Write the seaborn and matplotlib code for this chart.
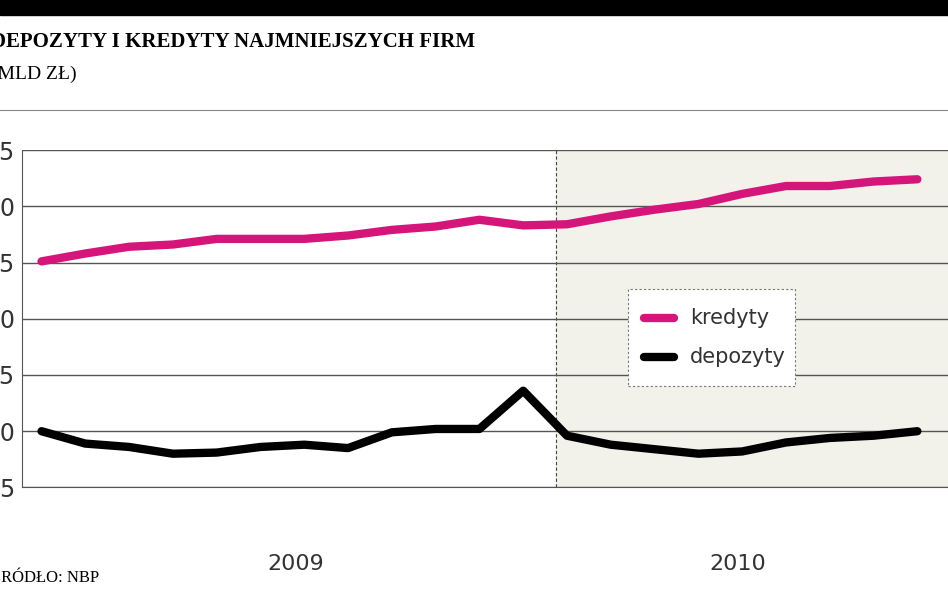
import numpy as np
import pandas as pd
import matplotlib.pyplot as plt
import seaborn as sns

# wartości (mld zł), miesiące I.2009 - IX.2010
months = list(range(21))
kredyty = [25.1, 25.8, 26.4, 26.6, 27.1, 27.1, 27.1, 27.4, 27.9, 28.2, 28.8,
           28.3, 28.4, 29.1, 29.7, 30.2, 31.1, 31.8, 31.8, 32.2, 32.4]
depozyty = [10.0, 8.9, 8.6, 8.0, 8.1, 8.6, 8.8, 8.5, 9.9, 10.2, 10.2,
            13.6, 9.6, 8.8, 8.4, 8.0, 8.2, 9.0, 9.4, 9.6, 10.0]
y_ticks = [5, 10, 15, 20, 25, 30, 35]
years = ['2009', '2010']

df = pd.DataFrame({'m': months * 2,
                   'v': kredyty + depozyty,
                   's': ['kredyty'] * 21 + ['depozyty'] * 21})

fig = plt.figure(figsize=(9.48, 5.93), dpi=100)
fig.patches.append(plt.Rectangle((0, 0.975), 1, 0.025, transform=fig.transFigure, color='black'))
ax = fig.add_axes([0.023, 0.178, 0.977, 0.569])

split = 11.75
ax.axvspan(split, 22, color='#f2f2ea', zorder=0)
ax.axvline(split, color='#444444', lw=0.8, ls=(0, (3, 2)), zorder=1)
for t in y_ticks:
    ax.axhline(t, color='#555555', lw=1, zorder=1)

sns.lineplot(data=df, x='m', y='v', hue='s', palette={'kredyty': '#d6157a', 'depozyty': 'black'},
             lw=6, ax=ax, legend=False, zorder=3)
for l in ax.lines[-2:]:
    l.set_solid_capstyle('round')

ax.set_xlim(-0.45, 20.7)
ax.set_ylim(5, 35)
ax.set_yticks(y_ticks)
ax.set_yticklabels([str(t) for t in y_ticks], fontsize=17, color='#333333')
ax.tick_params(axis='y', length=0, pad=5)
ax.set_xticks([])
ax.set_xlabel('')
ax.set_ylabel('')
for s in ['top', 'right']:
    ax.spines[s].set_visible(False)
ax.spines['left'].set_color('#555555')
ax.spines['bottom'].set_color('#555555')

ax.text(5.8, -0.9, years[0], fontsize=16, ha='center', va='top', color='#333333')
ax.text(15.9, -0.9, years[1], fontsize=16, ha='center', va='top', color='#333333')

# legenda
leg = plt.Rectangle((13.4, 14.0), 3.8, 8.6, fill=True, facecolor='white', edgecolor='#777777',
                    ls=(0, (2, 2)), lw=0.8, zorder=4)
ax.add_patch(leg)
for y, name, c in [(20.1, 'kredyty', '#d6157a'), (16.6, 'depozyty', 'black')]:
    ax.plot([13.75, 14.45], [y, y], color=c, lw=6, solid_capstyle='round', zorder=5)
    ax.text(14.8, y, name, fontsize=15, va='center', color='#333333', zorder=5)

fig.text(-0.01, 0.93, 'DEPOZYTY I KREDYTY NAJMNIEJSZYCH FIRM', fontsize=15, fontweight='bold',
         family='Liberation Serif', va='center')
fig.text(-0.01, 0.875, '(MLD ZŁ)', fontsize=14, family='Liberation Serif', va='center')
fig.text(-0.01, 0.025, 'ŹRÓDŁO: NBP', fontsize=12, family='Liberation Serif', va='center')
fig.lines.append(plt.Line2D([0, 1], [0.815, 0.815], transform=fig.transFigure, color='#888888', lw=0.8))

fig.savefig('out.png', dpi=100)
